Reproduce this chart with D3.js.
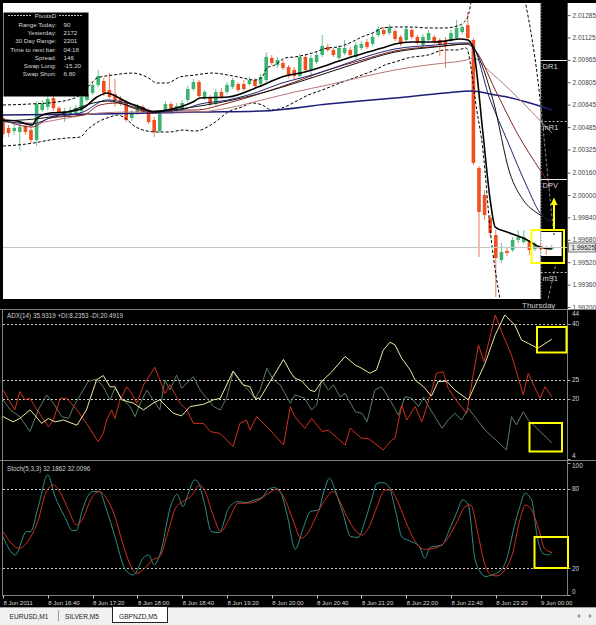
<!DOCTYPE html>
<html>
<head>
<meta charset="utf-8">
<script src="https://cdn.jsdelivr.net/npm/d3@7"></script>
<style>
body { margin: 0; background: #000; }
svg { display: block; font-family: "Liberation Sans", Arial, sans-serif; }
</style>
</head>
<body>
<svg id="chart" width="596" height="625"></svg>
<script>
// ---- GBPNZD M5 candles, bar 0 = 8 Jun 16:00 ----
var opens = [2.00550,2.00479,2.00457,2.00450,2.00493,2.00464,2.00393,2.00607,2.00629,2.00693,
  2.00621,2.00579,2.00579,2.00586,2.00600,2.00679,2.00729,2.00786,2.00814,2.00750,
  2.00721,2.00686,2.00664,2.00550,2.00593,2.00629,2.00607,2.00536,2.00457,2.00607,
  2.00650,2.00607,2.00614,2.00679,2.00757,2.00807,2.00693,2.00700,2.00650,2.00736,
  2.00736,2.00771,2.00793,2.00793,2.00793,2.00821,2.00793,2.00821,2.00979,2.00929,
  2.00943,2.00914,2.00893,2.00850,2.00986,2.00893,2.00950,2.01000,2.01057,2.01036,
  2.00979,2.01014,2.01036,2.00986,2.01050,2.01093,2.01079,2.01143,2.01179,2.01157,
  2.01171,2.01129,2.01107,2.01179,2.01129,2.01071,2.01107,2.01129,2.01107,2.01107,
  2.01107,2.01121,2.01164,2.01214,2.01107,2.00193,2.00000,1.99836,1.99714,1.99536,
  1.99600,1.99607,1.99679,1.99664,1.99664,1.99614,1.99636,1.99621,1.99614];
var highs = [2.00571,2.00500,2.00507,2.00514,2.00514,2.00486,2.00671,2.00679,2.00707,2.00714,
  2.00636,2.00621,2.00629,2.00643,2.00721,2.00750,2.00807,2.00893,2.00836,2.00871,
  2.00829,2.00707,2.00679,2.00607,2.00650,2.00643,2.00621,2.00557,2.00593,2.00671,
  2.00664,2.00657,2.00679,2.00779,2.00829,2.00821,2.00750,2.00714,2.00757,2.00764,
  2.00807,2.00836,2.00807,2.00821,2.00843,2.00836,2.00864,2.01021,2.01000,2.00986,
  2.00964,2.00929,2.00914,2.01007,2.01000,2.01000,2.01021,2.01143,2.01079,2.01050,
  2.01071,2.01107,2.01057,2.01093,2.01100,2.01114,2.01150,2.01207,2.01200,2.01222,
  2.01186,2.01143,2.01207,2.01200,2.01143,2.01150,2.01179,2.01143,2.01121,2.01129,
  2.01179,2.01250,2.01214,2.01307,2.01121,2.00207,2.00036,1.99857,1.99750,1.99657,
  1.99621,1.99700,1.99750,1.99750,1.99679,1.99664,1.99650,1.99636,1.99643];
var lows = [2.00414,2.00414,2.00429,2.00321,2.00429,2.00371,2.00350,2.00593,2.00607,2.00600,
  2.00564,2.00521,2.00557,2.00571,2.00586,2.00664,2.00714,2.00771,2.00707,2.00686,
  2.00629,2.00636,2.00521,2.00529,2.00571,2.00579,2.00507,2.00414,2.00443,2.00593,
  2.00579,2.00593,2.00600,2.00664,2.00743,2.00693,2.00679,2.00636,2.00636,2.00686,
  2.00721,2.00757,2.00736,2.00743,2.00779,2.00764,2.00779,2.00807,2.00929,2.00907,
  2.00893,2.00836,2.00829,2.00836,2.00879,2.00836,2.00936,2.00986,2.01021,2.00986,
  2.00964,2.01000,2.00986,2.00971,2.01036,2.01043,2.01064,2.01129,2.01136,2.01143,
  2.01100,2.01064,2.01093,2.01114,2.01071,2.01057,2.01093,2.01079,2.00993,2.00907,
  2.01093,2.01107,2.01150,2.01107,2.00214,1.99557,1.99821,1.99707,1.99271,1.99514,
  1.99564,1.99593,1.99657,1.99650,1.99571,1.99600,1.99600,1.99571,1.99607];
var closes = [2.00436,2.00443,2.00479,2.00486,2.00450,2.00393,2.00650,2.00657,2.00686,2.00621,
  2.00586,2.00600,2.00607,2.00621,2.00700,2.00721,2.00786,2.00850,2.00729,2.00700,
  2.00679,2.00657,2.00536,2.00586,2.00629,2.00593,2.00521,2.00450,2.00579,2.00650,
  2.00593,2.00636,2.00657,2.00757,2.00807,2.00707,2.00736,2.00650,2.00736,2.00700,
  2.00786,2.00821,2.00750,2.00757,2.00821,2.00779,2.00843,2.00986,2.00943,2.00964,
  2.00907,2.00850,2.00850,2.00986,2.00893,2.00979,2.01000,2.01064,2.01036,2.01000,
  2.01050,2.01050,2.01000,2.01071,2.01079,2.01057,2.01129,2.01186,2.01150,2.01200,
  2.01114,2.01079,2.01186,2.01129,2.01086,2.01129,2.01157,2.01093,2.01071,2.01071,
  2.01157,2.01193,2.01200,2.01121,2.00229,1.99879,1.99857,1.99729,1.99550,1.99593,
  1.99586,1.99679,1.99700,1.99700,1.99607,1.99643,1.99614,1.99614,1.99625];

// moving averages and bands, read as [bar, price]
var maFast = [[0,2.00536],[2.5,2.00529],[5.2,2.00500],[6.1,2.00550],[8.4,2.00586],[11.4,2.00593],[14.3,2.00621],
  [16.8,2.00700],[18.6,2.00729],[20.4,2.00700],[22.1,2.00664],[24.5,2.00629],[26.8,2.00593],[29.3,2.00607],
  [31.6,2.00629],[33.9,2.00664],[35.2,2.00693],[40.2,2.00700],[45.5,2.00771],[49.8,2.00843],[53.9,2.00879],
  [58,2.00929],[61.6,2.00979],[65.2,2.01021],[67.7,2.01050],[70,2.01079],[73,2.01093],[77.1,2.01093],
  [78.9,2.01100],[81.6,2.01114],[83,2.01107],[83.9,2.01057],[85.7,2.00443],[87,1.99964],[87.9,1.99771],
  [90,1.99736],[92.9,1.99693],[95.9,1.99629],[98,1.99614]];
var maMidBlack = [[0,2.00529],[8.4,2.00557],[18.6,2.00671],[26.8,2.00600],[35.2,2.00636],[45.5,2.00721],
  [53.9,2.00821],[61.6,2.00921],[70,2.01021],[77.1,2.01057],[83,2.01079],[87.5,2.00679],[90.5,2.00157],
  [92.9,1.99964],[95.4,1.99871],[98,1.99820]];
var maNavy = [[0,2.00529],[5.2,2.00507],[8.4,2.00550],[14.3,2.00593],[18.6,2.00679],[22.1,2.00657],
  [26.8,2.00593],[31.6,2.00607],[35.2,2.00650],[40.2,2.00679],[45.5,2.00736],[49.8,2.00800],[53.9,2.00843],
  [58,2.00893],[61.6,2.00943],[65.2,2.00993],[70,2.01043],[77.1,2.01071],[81.6,2.01086],[83.4,2.01086],
  [87,2.00679],[90,2.00393],[93.6,2.00057],[95.9,1.99871],[98,1.99807]];
var maRed = [[0,2.00536],[5.2,2.00486],[8.4,2.00550],[14.3,2.00571],[17.3,2.00643],[20.4,2.00657],
  [23.2,2.00621],[26.8,2.00586],[30.4,2.00607],[34.3,2.00607],[40.2,2.00657],[46.3,2.00729],[52.1,2.00807],
  [58,2.00893],[64.1,2.00964],[70,2.01029],[75.9,2.01057],[78.9,2.01064],[82.7,2.01079],[84.3,2.01036],
  [87.9,2.00750],[91.8,2.00443],[95.9,2.00179],[98,2.00057]];
var maPink = [[0,2.00521],[5.2,2.00514],[11.4,2.00550],[17.3,2.00586],[23.2,2.00593],[29.3,2.00593],
  [34.3,2.00593],[40.2,2.00621],[46.3,2.00679],[52.1,2.00736],[58,2.00786],[64.1,2.00843],[70,2.00893],
  [75.9,2.00929],[78.9,2.00943],[82.7,2.00964],[83.9,2.00979],[87,2.00879],[90,2.00771],[94.1,2.00607],
  [98,2.00443]];
var maLong = [[0,2.00571],[17.3,2.00579],[35.2,2.00593],[46.3,2.00600],[58,2.00650],[70,2.00693],
  [78.9,2.00729],[83.8,2.00743],[87,2.00721],[90,2.00700],[94.1,2.00657],[98,2.00607]];
var bandUpper = [[0,2.00643],[4.8,2.00650],[9.6,2.00664],[13.2,2.00700],[15.5,2.00786],[16.8,2.00836],
  [19.6,2.00857],[23.2,2.00871],[25.7,2.00843],[27.5,2.00800],[29.3,2.00800],[31.6,2.00843],[34.3,2.00857],
  [37.3,2.00871],[40.2,2.00857],[42,2.00843],[45,2.00821],[46.3,2.00843],[47.1,2.00907],[48.6,2.00929],
  [50.4,2.00979],[52.1,2.00986],[55.2,2.01014],[58,2.01050],[59.8,2.01057],[62.3,2.01093],[64.1,2.01129],
  [66.4,2.01164],[67.7,2.01193],[70,2.01200],[73,2.01200],[75.9,2.01193],[78.9,2.01193],[81.1,2.01207],
  [82.7,2.01250],[83.6,2.01393],[84.1,2.01607]];
var bandLower = [[0,2.00350],[2.5,2.00357],[5.4,2.00371],[8.4,2.00393],[11.4,2.00407],[13.8,2.00414],
  [15,2.00464],[17.3,2.00529],[19.1,2.00557],[20.4,2.00571],[21.8,2.00550],[23.2,2.00500],[25,2.00464],
  [27.5,2.00450],[29.8,2.00450],[32.1,2.00464],[34.3,2.00457],[37.9,2.00521],[40.2,2.00593],[42.7,2.00629],
  [44.5,2.00657],[46.3,2.00643],[48,2.00607],[49.8,2.00621],[52.1,2.00664],[54.5,2.00714],[57,2.00750],
  [59.3,2.00786],[61.6,2.00821],[64.1,2.00857],[66.4,2.00893],[68.2,2.00929],[70,2.00950],[72.3,2.00979],
  [75.9,2.01000],[78.9,2.01036],[81.1,2.01036],[82.7,2.01050],[84.6,2.00607],[85.7,2.00321],[87,1.99750],
  [89.1,1.99179]];
var bandReturn = [[93.2,2.01393],[94.5,2.01107],[95.4,2.00857],[96.1,2.00607],[97,2.00250],[97.9,1.99893],[98.4,1.99714]];
var bandTail = [[96.9,1.99193],[97.9,1.99357],[98.8,1.99521]];

var priceTicks = [2.01285,2.01125,2.00965,2.00805,2.00645,2.00485,2.00325,2.00160,2.00000,1.99840,1.99680,1.99520,1.99360,1.99200];
var lastPrice = 1.99625;
var pivotNames = ["DR1", "mR1", "DPV", "mS1"];
var pivotPrices = [2.00961, 2.00531, 2.00111, 1.99450];
var infoLabels = ["Range Today:", "Yesterday:", "30 Day Range:", "Time to next bar:", "Spread:", "Swap Long:", "Swap Short:"];
var infoValues = ["90", "2172", "2201", "04:18", "146", "-15.20", "6.80"];

// ADX(14), [bar, value]
var adxMain = [[0,15.2],[1.8,13.8],[3,14.7],[4.8,17.0],[5.7,15.6],[6.9,13.4],[8.1,14.7],[9.3,13.8],[10.8,14.3],
  [13.2,12.9],[14.9,17.0],[16.7,25.0],[17.9,26.2],[19.1,23.2],[20,23.2],[21.2,19.7],[23.3,18.8],[25.1,17.0],
  [26.8,18.8],[28,19.7],[29.2,17.9],[30.4,16.1],[31.9,15.4],[33.4,17.9],[35.8,18.5],[37.6,19.7],[38.8,20.1],
  [41.1,27.4],[42.9,23.7],[44.1,23.2],[45,20.1],[45.9,20.1],[47.7,24.6],[50.1,30.5],[51.3,27.2],[52.1,25.5],
  [53.3,24.8],[54.8,22.3],[55.7,21.9],[56.9,24.6],[58.7,27.2],[61.1,31.3],[62.9,29.0],[64.1,28.1],[65.5,26.8],
  [66.7,27.7],[67.9,33.0],[69.1,35.1],[70,34.4],[71.2,30.8],[72.7,27.7],[73.6,25.0],[75.1,23.2],[76.5,20.7],
  [77.7,24.6],[79.2,24.7],[80.7,22.3],[81.9,21.0],[83.1,19.7],[84.6,24.6],[86.1,29.5],[87.9,37.1],[89.6,42.4],
  [91.4,39.7],[92.6,35.7],[93.8,34.8],[95.5,33.5],[98,35.9]];
var plusDI = [[0,19.7],[1.3,17.0],[3,15.2],[4.8,11.2],[6.3,17.0],[7.8,21.0],[9,18.8],[10.5,15.2],[11.7,14.7],
  [12.6,17.9],[13.8,21.0],[15.2,24.6],[16.7,25.3],[17.9,23.2],[19.1,19.7],[20,22.8],[21.2,20.1],[22.7,17.9],
  [23.6,15.2],[24.5,18.8],[25.7,22.3],[26.8,19.7],[28,17.0],[28.9,25.0],[29.8,22.3],[31,26.3],[31.9,22.8],
  [33.1,24.6],[34,25.9],[35.2,22.3],[36.4,20.1],[37.6,17.9],[38.8,17.0],[39.9,20.1],[41.1,27.2],[42.3,24.6],
  [43.8,22.3],[45,20.1],[45.9,22.3],[47.1,28.1],[48.3,25.0],[49.5,23.7],[51.3,18.8],[52.1,21.0],[53.9,20.1],
  [55.1,17.0],[56,18.3],[56.9,25.0],[58.1,22.3],[59,23.7],[60.2,20.5],[61.1,21.4],[62.9,16.5],[64.1,16.1],
  [65,13.8],[66.4,22.3],[67.6,23.2],[69.1,19.7],[70.6,15.6],[71.8,20.5],[73,20.1],[74.2,17.9],[75.1,20.4],
  [76,17.9],[78.4,12.1],[79.5,14.3],[80.7,16.1],[81.9,14.3],[83.1,17.4],[86.1,11.6],[89.9,6.3],[90.8,15.2],
  [91.7,13.0],[92.9,16.5],[93.8,14.3],[98,8.2]];
var minusDI = [[0,22.3],[2.1,17.0],[3,21.9],[3.9,19.7],[4.8,20.1],[5.7,17.9],[6.9,15.2],[8.1,12.5],[9,14.3],
  [10.2,20.1],[11.4,20.1],[13.2,17.0],[14.9,13.4],[17,8.5],[17.9,10.7],[18.5,14.3],[19.4,17.0],[20,14.7],
  [20.9,19.7],[22.1,23.2],[23,21.4],[23.9,18.8],[25.1,23.7],[27.1,28.4],[28,25.0],[28.9,21.4],[29.8,23.7],
  [31.6,18.8],[32.8,17.0],[34,13.4],[35.8,13.4],[37,11.2],[38.8,10.7],[41.1,7.2],[42.3,13.4],[43.5,14.3],
  [44.1,11.6],[45.3,15.2],[47.7,11.6],[50.1,7.6],[51.3,17.9],[52.1,15.2],[53.9,12.1],[55.1,14.7],[57,11.2],
  [58.1,11.6],[61.1,7.6],[62,12.1],[64,9.4],[65.2,9.4],[67.9,6.3],[69.4,8.9],[70,9.4],[71.2,18.3],[72.1,14.3],
  [73.6,17.9],[74.8,13.8],[76.5,21.9],[77.4,26.8],[78.6,27.2],[79.5,22.8],[81.3,18.8],[82.8,16.1],[84.9,34.4],
  [85.9,29.9],[87.9,42.4],[89.4,36.6],[90.8,31.7],[92.9,21.0],[93.8,26.8],[95.3,21.9],[95.9,20.1],[96.8,23.2],
  [98,20.5]];
var adxLevels = [40, 25, 20];
var adxTicks = [44, 40, 25, 20, 4];

// Stochastic(5,3,3), [bar, value]
var stochMain = [[0,43.9],[2.2,30.1],[4.2,47.7],[4.9,47.7],[6.3,66.6],[8,90.6],[9.3,74.2],[11,59.1],[12.4,48.5],
  [13.1,48.5],[14.1,62.9],[15.1,74.2],[16.1,78.0],[17.2,78.0],[18.5,64.1],[19.9,45.2],[21.9,18.7],[23.3,14.9],
  [25,27.5],[26,30.1],[27,22.5],[28,30.1],[30.1,69.2],[31.1,75.9],[32.1,66.6],[33.1,76.7],[34.2,86.8],
  [34.8,85.5],[35.9,70.4],[37.2,47.7],[38.6,47.0],[40.3,65.4],[42,70.4],[43.3,69.7],[45,71.7],[46.4,74.2],
  [47.4,79.7],[48.4,81.0],[49.5,78.0],[50.8,59.1],[52.2,34.4],[53.5,49.0],[54.9,62.9],[56.3,64.1],[57.3,78.0],
  [58.3,88.1],[59.3,79.2],[60.7,61.6],[62.1,43.9],[63.4,43.4],[64.8,57.8],[65.8,71.7],[66.8,84.3],[67.8,84.8],
  [68.9,81.8],[70.2,61.6],[71.2,43.9],[72.9,40.2],[74.3,36.9],[75.3,27.5],[76.3,35.9],[78.4,37.6],[79.7,49.0],
  [81.1,62.9],[82.1,71.7],[83.1,67.9],[84.2,28.8],[85.2,17.4],[86.2,13.7],[87.2,14.9],[88.6,17.4],[89.9,26.3],
  [91.3,51.5],[92.3,66.6],[93.2,76.7],[94.4,71.7],[95.4,43.9],[96.4,31.3],[97.4,30.1],[98,32.2]];
var stochSignal = [[0,47.7],[2.9,35.1],[4.6,41.4],[6.3,56.5],[7.6,76.7],[9,83.0],[10.3,76.7],[11.7,64.1],
  [13.1,52.8],[14.1,56.5],[15.8,72.9],[17.2,78.0],[18.5,72.9],[19.9,60.3],[21.2,41.4],[22.6,23.8],[23.9,16.2],
  [25.3,20.0],[26.7,26.3],[28,28.8],[29.4,46.5],[30.8,65.4],[32.1,70.4],[33.5,74.2],[35.2,83.0],[36.2,76.7],
  [37.6,59.1],[38.9,47.7],[40.3,56.5],[42,69.2],[43.7,69.2],[45.7,71.7],[47.4,76.7],[48.8,79.7],[50.1,74.2],
  [51.8,56.5],[53.2,42.7],[54.6,47.7],[55.9,59.1],[57.3,70.4],[59,78.0],[60,71.7],[61.4,59.1],[63.1,47.7],
  [64.1,45.2],[65.4,51.5],[66.8,66.6],[68.2,79.2],[69.2,79.2],[70.6,69.2],[72.3,51.5],[73.6,40.2],[75.3,34.3],
  [77,35.1],[79,40.2],[81.1,55.3],[82.5,66.6],[83.5,67.9],[84.8,46.5],[85.9,25.0],[87.2,14.9],[88.2,14.2],
  [89.6,18.7],[91,31.3],[92.3,56.5],[93.3,67.9],[94.4,64.1],[95.7,49.0],[96.7,35.1],[98,32.0]];
var stochLevels = [80, 20];
var stochTicks = [100, 80, 20, 0];

var timeTickBars = [0, 8, 16, 24, 32, 40, 48, 56, 64, 72, 80, 88, 96];
var timeTickLabels = ["8 Jun 2011", "8 Jun 16:40", "8 Jun 17:20", "8 Jun 18:00", "8 Jun 18:40", "8 Jun 19:20",
  "8 Jun 20:00", "8 Jun 20:40", "8 Jun 21:20", "8 Jun 22:00", "8 Jun 22:40", "8 Jun 23:20", "9 Jun 00:00"];
var tabNames = ["EURUSD,M1", "SILVER,M5", "GBPNZD,M5"];

// ---- layout ----
var svg = d3.select("#chart");
var left = 3, right = 567.5;

var x = d3.scaleLinear().domain([0, 98]).range([3, 551.8]);
var y = d3.scaleLinear().domain([1.992, 2.01285]).range([307, 15.1]);
var yAdx = d3.scaleLinear().domain([4, 44]).range([458.5, 309]);
var ySto = d3.scaleLinear().domain([0, 100]).range([594.7, 462.5]);
var todayX = x(96);

var defs = svg.append("defs");
function addClip(id, x0, y0, w, h) {
    defs.append("clipPath").attr("id", id).append("rect")
        .attr("x", x0).attr("y", y0).attr("width", w).attr("height", h);
}
addClip("clipMain", left, 3, right - left, 296);
addClip("clipToday", todayX, 3, right - todayX, 296);
addClip("clipAdx", left, 310, right - left, 149);
addClip("clipSto", left, 461, right - left, 134);

function rect(x0, y0, w, h, fill) {
    return svg.append("rect").attr("x", x0).attr("y", y0).attr("width", w).attr("height", h).attr("fill", fill);
}
function hline(x1, x2, yy, color, dash) {
    return svg.append("line").attr("x1", x1).attr("x2", x2).attr("y1", yy).attr("y2", yy)
        .attr("stroke", color).attr("stroke-width", 1).attr("stroke-dasharray", dash || null);
}
function vline(xx, y1, y2, color, dash) {
    return svg.append("line").attr("x1", xx).attr("x2", xx).attr("y1", y1).attr("y2", y2)
        .attr("stroke", color).attr("stroke-width", 1).attr("stroke-dasharray", dash || null);
}

rect(0, 0, 596, 607, "#000");
rect(left, 3, right - left, 296, "#fff");
rect(568, 3, 28, 306, "#fff");
rect(todayX, 3, right - todayX, 306, "#000");
rect(todayX, 232, 21, 24, "#fff");

// ---- main chart ----
var main = svg.append("g").attr("clip-path", "url(#clipMain)");
var bars = d3.range(opens.length);
var bull = function (i) { return closes[i] >= opens[i]; };

main.selectAll(".wick").data(bars).enter().append("line")
    .attr("x1", function (i) { return x(i); })
    .attr("x2", function (i) { return x(i); })
    .attr("y1", function (i) { return y(highs[i]); })
    .attr("y2", function (i) { return y(lows[i]); })
    .attr("stroke", function (i) { return bull(i) ? "#6cc08e" : "#ee7a55"; })
    .attr("stroke-width", 1);

main.selectAll(".body").data(bars).enter().append("rect")
    .attr("x", function (i) { return x(i) - 1.8; })
    .attr("width", 3.6)
    .attr("y", function (i) { return y(Math.max(opens[i], closes[i])); })
    .attr("height", function (i) { return Math.max(1, Math.abs(y(opens[i]) - y(closes[i]))); })
    .attr("fill", function (i) { return bull(i) ? "#3cb371" : "#f0501e"; });

var priceLine = d3.line()
    .x(function (d) { return x(d[0]); })
    .y(function (d) { return y(d[1]); })
    .curve(d3.curveMonotoneX);

var mainLines = [
    { data: bandUpper, color: "#000", width: 1, dash: "3,2" },
    { data: bandLower, color: "#000", width: 1, dash: "3,2" },
    { data: bandReturn, color: "#000", width: 1, dash: "3,2" },
    { data: maLong, color: "#1c1c78", width: 1.5 },
    { data: maPink, color: "#b47878", width: 1 },
    { data: maRed, color: "#8b2020", width: 1 },
    { data: maNavy, color: "#25256e", width: 1 },
    { data: maMidBlack, color: "#111", width: 1 },
    { data: maFast, color: "#000", width: 1.6 }
];
mainLines.forEach(function (l) {
    main.append("path").datum(l.data)
        .attr("d", priceLine)
        .attr("fill", "none")
        .attr("stroke", l.color)
        .attr("stroke-width", l.width)
        .attr("stroke-dasharray", l.dash || null);
});

// the dashed band lines show grey on the black "today" area
var today = svg.append("g").attr("clip-path", "url(#clipToday)");
[bandReturn, bandTail].forEach(function (d) {
    today.append("path").datum(d)
        .attr("d", priceLine)
        .attr("fill", "none")
        .attr("stroke", "#8a8a8a")
        .attr("stroke-dasharray", "3,2");
});

// day separator
vline(todayX + 0.5, 3, 299, "#9a9a9a", "1,2");

// pivot levels
pivotPrices.forEach(function (p, k) {
    var solid = pivotNames[k] === "DR1" || pivotNames[k] === "DPV";
    hline(todayX, right, Math.round(y(p)) + 0.5, solid ? "#e8e8e8" : "#bdbdbd", solid ? null : "2,2");
    svg.append("text").attr("x", todayX + 2).attr("y", y(p) + 9)
        .attr("fill", "#d8d8d8").attr("font-size", 7.5).text(pivotNames[k]);
});

// current price line
hline(left, right, Math.round(y(lastPrice)) + 0.5, "#c4c4c4");

// bottom strip with the day name
rect(left, 299, right - left, 10, "#000");
svg.append("text").attr("x", 522).attr("y", 307.5).attr("fill", "#cfcfcf").attr("font-size", 8).text("Thursday");

// price axis
vline(567.5, 3, 309, "#555");
var pAxis = svg.append("g").attr("transform", "translate(567.5,0)")
    .call(d3.axisRight(y).tickValues(priceTicks).tickSize(3).tickPadding(2).tickFormat(d3.format(".5f")));
pAxis.select(".domain").remove();
pAxis.selectAll("line").attr("stroke", "#555");
pAxis.selectAll("text").attr("fill", "#444").attr("font-size", 6.5).attr("font-family", "Liberation Sans, Arial");

var lpY = y(lastPrice);
svg.append("rect").attr("x", 568.5).attr("y", lpY - 4.5).attr("width", 27).attr("height", 9)
    .attr("fill", "#e4e4e4").attr("stroke", "#777");
svg.append("text").attr("x", 571.5).attr("y", lpY + 2.3).attr("fill", "#222").attr("font-size", 6.5).text(d3.format(".5f")(lastPrice));

// info box
rect(3.5, 12.5, 85, 84, "#000");
var info = svg.append("g").attr("fill", "#d8d8d8").attr("font-size", 6.2);
info.append("text").attr("x", 45.5).attr("y", 18).attr("text-anchor", "middle").text("PivotsD");
hline(8, 32, 15.5, "#bbb", "2,1");
hline(59, 83, 15.5, "#bbb", "2,1");
infoLabels.forEach(function (t, k) {
    var yy = 26.6 + k * 8.3;
    info.append("text").attr("x", 56.5).attr("y", yy).attr("text-anchor", "end").text(t);
    info.append("text").attr("x", 63.5).attr("y", yy).text(infoValues[k]);
});

// ---- ADX panel ----
hline(0, 596, 309.5, "#808080");
adxLevels.forEach(function (v) { hline(left, right, Math.round(yAdx(v)) + 0.5, "#d0d0d0", "2,2"); });
var adxPanel = svg.append("g").attr("clip-path", "url(#clipAdx)");
var adxLine = d3.line().x(function (d) { return x(d[0]); }).y(function (d) { return yAdx(d[1]); });
[[plusDI, "#587f62"], [minusDI, "#d0321e"], [adxMain, "#eee8a0"]].forEach(function (s) {
    adxPanel.append("path").datum(s[0]).attr("d", adxLine)
        .attr("fill", "none").attr("stroke", s[1]).attr("stroke-width", 1);
});
svg.append("text").attr("x", 7).attr("y", 318).attr("fill", "#d0d0d0").attr("font-size", 6.3)
    .text("ADX(14) 35.9319 +DI:8.2353 -DI:20.4919");
adxTicks.forEach(function (v) {
    var yy = Math.min(455.5, Math.max(313.5, yAdx(v)));
    hline(567.5, 570.5, Math.round(yAdx(v)) + 0.5, "#aaa");
    svg.append("text").attr("x", 572).attr("y", yy + 2.3).attr("fill", "#d0d0d0").attr("font-size", 6.5).text(v);
});

// ---- Stochastic panel ----
hline(0, 596, 460.5, "#808080");
stochLevels.forEach(function (v) { hline(left, right, Math.round(ySto(v)) + 0.5, "#d0d0d0", "2,2"); });
var stoPanel = svg.append("g").attr("clip-path", "url(#clipSto)");
var stoLine = d3.line().x(function (d) { return x(d[0]); }).y(function (d) { return ySto(d[1]); })
    .curve(d3.curveMonotoneX);
[[stochMain, "#2f8f8a"], [stochSignal, "#d0321e"]].forEach(function (s) {
    stoPanel.append("path").datum(s[0]).attr("d", stoLine)
        .attr("fill", "none").attr("stroke", s[1]).attr("stroke-width", 1);
});
svg.append("text").attr("x", 7).attr("y", 470.5).attr("fill", "#d0d0d0").attr("font-size", 6.3)
    .text("Stoch(5,3,3) 32.1862 32.0096");
stochTicks.forEach(function (v) {
    var yy = Math.min(591.5, Math.max(466, ySto(v)));
    hline(567.5, 570.5, Math.round(ySto(v)) + 0.5, "#aaa");
    svg.append("text").attr("x", 572).attr("y", yy + 2.3).attr("fill", "#d0d0d0").attr("font-size", 6.5).text(v);
});

// panel frames
vline(567.5, 309, 596, "#808080");
vline(2.5, 309, 596, "#808080");
hline(2.5, 567.5, 595.5, "#808080");

// time axis
timeTickBars.forEach(function (b, k) {
    var xx = Math.round(x(b)) + 0.5;
    vline(xx, 595.5, 598.5, "#cfcfcf");
    svg.append("text").attr("x", x(b) + 0.5).attr("y", 605).attr("fill", "#d8d8d8").attr("font-size", 6)
        .text(timeTickLabels[k]);
});

// ---- highlight boxes ----
var marks = svg.append("g").attr("fill", "none").attr("stroke", "#ffff00").attr("stroke-width", 2);
marks.append("rect").attr("x", 531.5).attr("y", 230).attr("width", 32.5).attr("height", 33);
marks.append("rect").attr("x", 537).attr("y", 327).attr("width", 29.5).attr("height", 25.5);
marks.append("rect").attr("x", 529.5).attr("y", 423).attr("width", 32.5).attr("height", 28.5);
marks.append("rect").attr("x", 534.5).attr("y", 537).attr("width", 33.5).attr("height", 31);
marks.append("line").attr("x1", 554).attr("x2", 554).attr("y1", 230).attr("y2", 204);
svg.append("path").attr("d", "M554,197.5L550.5,205L557.5,205Z").attr("fill", "#ffff00");

// ---- tab bar ----
rect(0, 607, 596, 18, "#f0f0f0");
hline(0, 596, 607.5, "#a0a0a0");
var tabX = [9.5, 65, 119];
svg.append("rect").attr("x", 112.5).attr("y", 606.5).attr("width", 55).attr("height", 16)
    .attr("fill", "#fff").attr("stroke", "#222");
vline(58.5, 610, 621, "#999");
tabNames.forEach(function (t, k) {
    svg.append("text").attr("x", tabX[k]).attr("y", 619).attr("fill", "#222").attr("font-size", 6.6).text(t);
});
svg.append("path").attr("d", "M577,616L580,613.5L580,618.5Z").attr("fill", "#999");
svg.append("path").attr("d", "M592,616L589,613.5L589,618.5Z").attr("fill", "#999");
</script>
</body>
</html>
